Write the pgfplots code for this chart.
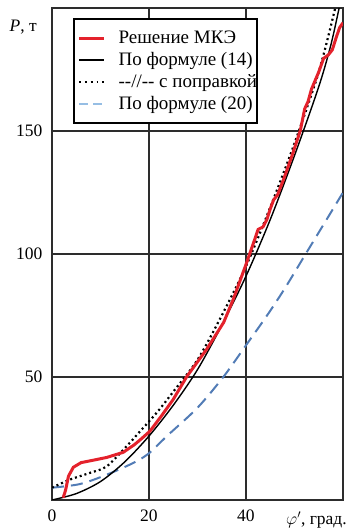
\documentclass[border=0pt]{standalone}
\usepackage{fontspec}
\setmainfont{Liberation Serif}
\usepackage{pgfplots}
\pgfplotsset{compat=1.18}
\definecolor{femred}{RGB}{228,34,44}
\definecolor{dblue}{RGB}{82,124,182}
\definecolor{lblue}{RGB}{150,190,228}
\definecolor{frame}{RGB}{45,45,45}
\newcommand{\legtxt}[1]{\makebox[134pt][l]{#1}}
\begin{document}
\begin{tikzpicture}
\begin{axis}[
  scale only axis, width=291pt, height=492pt,
  xmin=0, xmax=60, ymin=0, ymax=200,
  xtick={0,20,40}, ytick={50,100,150},
  grid=major, major grid style={frame, line width=1.3pt},
  axis line style={frame, line width=2.6pt},
  tick style={draw=none},
  ticklabel style={font=\fontsize{17.5}{20}\selectfont},
  yticklabel style={xshift=-6pt},
  xticklabel style={yshift=-6pt},
  /pgf/number format/assume math mode=true,
  legend style={at={(0.0732,0.979)}, anchor=north west, draw=black, line width=1.6pt,
    fill=white, font=\fontsize{19}{21}\selectfont, inner xsep=3.5pt, inner ysep=8.5pt, row sep=1pt,
    column sep=12pt,
    nodes={inner sep=1pt, text height=15pt, text depth=4pt}},
  legend cell align=left,
  legend image code/.code={\draw[#1] (0pt,0pt) -- (25pt,0pt);},
]
\addlegendimage{femred, line width=3pt}
\addlegendentry{\legtxt{Решение МКЭ}}
\addlegendimage{black, line width=1.4pt}
\addlegendentry{\legtxt{По формуле (14)}}
\addlegendimage{black, line width=1.8pt, dash pattern=on 1.8pt off 4pt}
\addlegendentry{\legtxt{-{}-//-{}- с поправкой}}
\addlegendimage{lblue, line width=2pt, dash pattern=on 9pt off 5pt}
\addlegendentry{\legtxt{По формуле (20)}}

% formula (20)
\addplot[dblue, line width=2pt, dash pattern=on 12pt off 7pt, smooth, forget plot] coordinates {
(0,5) (5.8,6.5) (11.3,10.3) (16.8,15.1) (20,19) (23.7,26) (30,37.5) (35.4,50.2)
(40,62.9) (44.3,74.9) (48,86) (52.3,100) (56,112) (60,125)};
% formula (14)
\addplot[black, line width=1.4pt, smooth, forget plot] coordinates {
(0,0) (5,2.6) (10,7.5) (15,15.5) (20,26) (25,38.5) (30,53) (35,71) (40,91)
(45,114) (50,140) (55,168) (57.5,185) (59.2,200)};
% with correction
\addplot[black, line width=2.2pt, dash pattern=on 2pt off 3pt, smooth, forget plot] coordinates {
(0,5) (3.7,8.3) (7.8,11) (11.3,13.7) (15.4,21.9) (18.2,28) (21.6,35.5) (25,44)
(30,57) (35,75) (40,95) (45,119) (50,145) (55,174) (58.4,200)};
% FEM
\addplot[femred, line width=3pt, forget plot] coordinates {
(2.3,0.9) (2.8,4) (3.4,9.7) (4.4,13.3) (6,15.2) (7.8,15.9) (11.3,17.3) (14.7,19.4)
(17,22.5) (18.5,25) (20.2,28) (22.5,34) (25,40.9) (27.8,50.2) (31.9,61.3) (35.4,72.2)
(37.4,81.7) (39.9,95.2) (41.6,104.8) (42.5,110) (43.5,111) (44.3,114) (45,118.3) (45.7,122)
(46.5,124) (47.8,130.6) (49.5,140) (51.2,150.2) (52.1,159) (52.8,162) (53.5,167) (55,174)
(56,179.5) (57,181) (57.8,183) (58.6,188) (59.3,192) (60,194)};

\coordinate (sw) at (rel axis cs:0,0);
\coordinate (ne) at (rel axis cs:1,1);
\coordinate (plab) at (axis cs:0,193.7);
\coordinate (xlab) at (axis cs:60,0);
\end{axis}
\node[anchor=base east, inner sep=0pt, font=\fontsize{17.5}{20}\selectfont] at ([xshift=-15pt,yshift=-8pt]plab) {\textit{P}, т};
\node[anchor=base east, inner sep=0pt, font=\fontsize{17.5}{20}\selectfont] at ([xshift=4pt,yshift=-25pt]xlab) {$\varphi'$, град.};
\pgfresetboundingbox
\path ([shift={(-52pt,-32pt)}]sw) rectangle ([shift={(10pt,8pt)}]ne);
\end{tikzpicture}
\end{document}
